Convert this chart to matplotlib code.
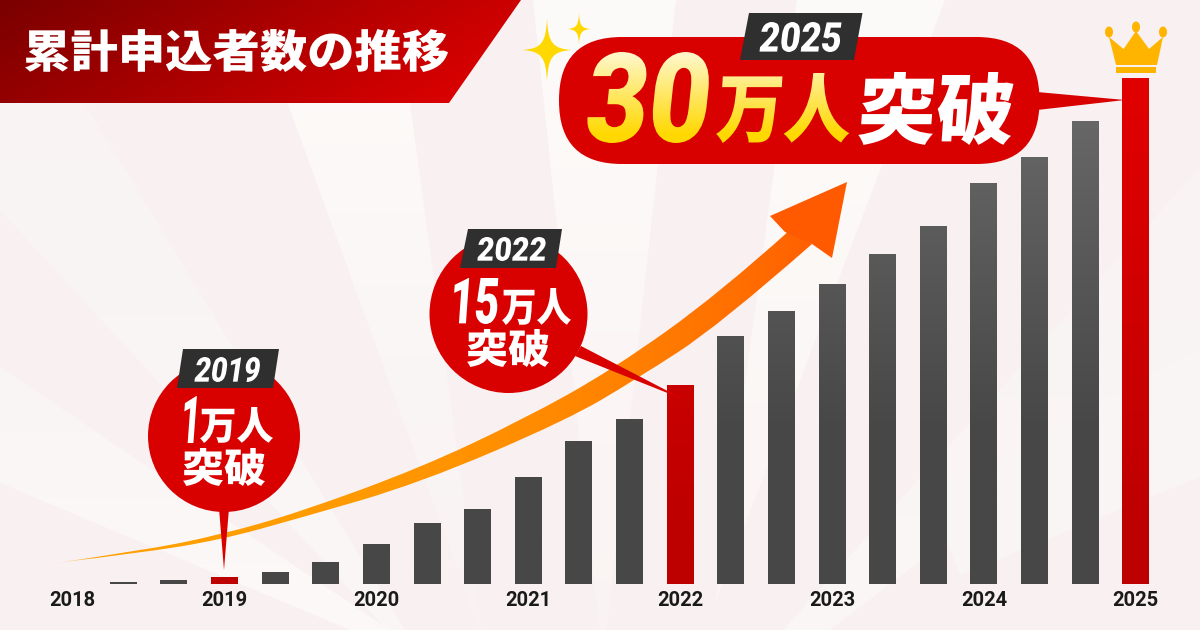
import numpy as np
import matplotlib
matplotlib.use('Agg')
import matplotlib.pyplot as plt
from matplotlib.font_manager import FontProperties
from matplotlib.patches import Circle, Ellipse, PathPatch, Polygon, Rectangle, FancyBboxPatch
from matplotlib.path import Path
from matplotlib.patheffects import AbstractPathEffect
from matplotlib.textpath import TextPath
from matplotlib.transforms import Affine2D, Bbox, IdentityTransform, TransformedPath

# cumulative applicants (10k people), one bar per 4 months
bar_values = [0, 0.12, 0.24, 0.41, 0.71, 1.30, 2.37, 3.59, 4.45, 6.34, 8.48, 9.78,
              11.80, 14.70, 16.19, 17.79, 19.57, 21.23, 23.77, 25.32, 27.45, 30.0]
highlight_bars = [3, 12, 21]
tick_positions = [0, 3, 6, 9, 12, 15, 18, 21]
year_labels = ['2018', '2019', '2020', '2021', '2022', '2023', '2024', '2025']

title = '累計申込者数の推移'
JP = 'Noto Sans CJK JP'
NUM = 'Roboto'
RED = '#d90000'
TAG = '#2f2f2f'
W, H = 1200, 630

# background rays, (vertices, top colour, bottom colour)
rays = [
    ([(250, 0), (396, 0), (483, 640)], '#fdfbf9', '#f9f2f3'),
    ([(533, 0), (676, 0), (603, 665)], '#fdfbf9', '#faf3f3'),
    ([(797, 0), (945, 0), (715, 604)], '#fdfbf9', '#fbf5f4'),
    ([(22, 0), (0, 0), (0, 210), (387, 630), (405, 630)], '#f9f3f3', '#fbf7f7'),
    ([(0, 367), (0, 483), (350, 630), (390, 630)], '#faf5f5', '#fcf9f8'),
    ([(783, 630), (1200, 167), (1200, 347), (830, 630)], '#f9f3f3', '#fbf7f6'),
    ([(1200, 347), (1200, 477), (960, 575), (930, 500)], '#faf5f5', '#fbf6f5'),
]
arrow_top = [(55, 563), (140, 551), (220, 535), (300, 512), (420, 468), (522, 420),
             (612, 370), (720, 293), (790, 230)]
arrow_bottom = [(812, 244), (720, 325), (635, 380), (567, 420), (420, 483), (300, 518),
                (220, 540), (140, 553), (55, 563)]


def hexrgb(c):
    return np.array(matplotlib.colors.to_rgb(c))


class Warp(AbstractPathEffect):
    """ Squeeze/slant the glyphs of a real text, optionally with a vertical gradient """

    def __init__(self, sx=1, skew=0, grad=None):
        super().__init__()
        self.sx, self.skew, self.grad = sx, skew, grad

    def draw_path(self, renderer, gc, tpath, affine, rgbFace=None):
        a = Affine2D().skew_deg(self.skew, 0).scale(self.sx, 1) + affine
        if self.grad is None:
            renderer.draw_path(gc, tpath, a, rgbFace)
            return
        p = a.transform_path(tpath)
        e = p.get_extents()
        x0, y0 = int(e.x0) - 1, int(e.y0) - 1
        w, h = int(e.width) + 4, int(e.height) + 4
        ytop, ybot, c_top, c_bot = self.grad
        rows = H - (y0 + np.arange(h))  # picture y of each image row
        t = np.clip((rows - ytop) / (ybot - ytop), 0, 1)[:, None]
        rgb = hexrgb(c_top) * (1 - t) + hexrgb(c_bot) * t
        im = np.zeros((h, w, 4), dtype=np.uint8)
        im[..., :3] = (rgb[:, None, :] * 255).astype(np.uint8)
        im[..., 3] = 255
        gc2 = renderer.new_gc()
        gc2.copy_properties(gc)
        gc2.set_clip_path(TransformedPath(p, IdentityTransform()))
        renderer.draw_image(gc2, x0, y0, im)
        gc2.restore()


def fit_text(ax, s, x0, x1, ytop, ybot, family, weight='bold', skew=0, color='white', grad=None):
    fp = FontProperties(family=family, weight=weight)
    e = TextPath((0, 0), s, size=100, prop=fp).get_extents()
    k = (ybot - ytop) / e.height  # px per unit at size 100
    slant = (ybot - ytop) * np.tan(np.radians(skew))
    sx = (x1 - x0 - slant) / (e.width * k)
    txt = ax.text(x0 - e.x0 * k * sx, ybot + e.y0 * k, s, fontproperties=fp, fontsize=100 * k * 72 / 100,
                  color=color, ha='left', va='baseline', zorder=10,
                  path_effects=[Warp(sx, skew, grad)])

    # the box of the squeezed glyphs, not of the unsqueezed layout
    natural = txt.get_window_extent

    def squeezed(renderer=None, dpi=None):
        b = natural(renderer, dpi)
        return Bbox.from_extents(b.x0, b.y0, b.x0 + b.width * sx + slant, b.y1)
    txt.get_window_extent = squeezed


def fill_gradient(ax, path, c0, c1, horizontal=False, alpha=None, power=1, zorder=2):
    e = path.get_extents()
    n = 256
    t = np.linspace(0, 1, n)[:, None]
    rgb = hexrgb(c0) * (1 - t ** power) + hexrgb(c1) * t ** power
    img = rgb[None, :, :] if horizontal else rgb[:, None, :]
    if alpha is not None:
        a = np.interp(t[:, 0], alpha[0], alpha[1])
        a = a[None, :, None] if horizontal else a[:, None, None]
        img = np.concatenate([img, a], axis=2)
    im = ax.imshow(img, extent=(e.x0, e.x1, e.y1, e.y0), aspect='auto', zorder=zorder,
                   interpolation='bilinear')
    im.set_clip_path(PathPatch(path, transform=ax.transData))


def smooth(points):
    """ Quadratic segments through midpoints """
    pts = np.array(points, dtype=float)
    verts = [pts[0]]
    for a, b in zip(pts[1:-1], pts[2:]):
        verts += [a, (a + b) / 2]
    verts[-1] = pts[-1]
    return verts


def star(ax, cx, cy, rx, ry):
    tips = [(0, -ry), (rx, 0), (0, ry), (-rx, 0)]
    verts = [(cx, cy - ry)]
    codes = [Path.MOVETO]
    for (ax0, ay0), (ax1, ay1) in zip(tips, tips[1:] + tips[:1]):
        verts += [(cx + ax0 * 0.22 + ax1 * 0.04, cy + ay0 * 0.22 + ay1 * 0.04),
                  (cx + ax1 * 0.22 + ax0 * 0.04, cy + ay1 * 0.22 + ay0 * 0.04),
                  (cx + ax1, cy + ay1)]
        codes += [Path.CURVE4] * 3
    ax.add_patch(PathPatch(Path(verts, codes), fc='#ffd800', ec='none', zorder=5))


fig = plt.figure(figsize=(W / 100, H / 100), dpi=100, facecolor='#f9f0f1')

# background layer in picture pixels
bg = fig.add_axes([0, 0, 1, 1], zorder=0)
for verts, c0, c1 in rays:
    fill_gradient(bg, Path(verts + [verts[0]]), c0, c1)
bg.set_xlim(0, W)
bg.set_ylim(H, 0)
bg.axis('off')

# bars
base_px, top_px = 584, 78
px_per_value = (base_px - top_px) / 30
ax = fig.add_axes([0, (H - base_px) / H, 1, base_px / H], zorder=1)
ax.patch.set_alpha(0)
idx = np.arange(len(bar_values))
step = 50.63
xlim = ((0 - 72.5) / step, (W - 72.5) / step)
ylim = (0, base_px / px_per_value)
rects = ax.bar(idx, bar_values, width=26.7 / step, color='#474747', linewidth=0)
yvals = np.linspace(30, 0, 256)
gray = np.interp(yvals, [0, 9, 30], [0x47, 0x47, 0x6b]) / 255
reds = np.interp(yvals, [0, 3, 30], [0xbd, 0xbd, 0xe2]) / 255
gray_img = np.stack([gray, gray, gray], axis=1)[:, None, :]
red_img = np.stack([reds, 0 * reds, 0 * reds], axis=1)[:, None, :]
for i, r in zip(idx, rects):
    if bar_values[i] <= 0:
        continue
    im = ax.imshow(red_img if i in highlight_bars else gray_img, aspect='auto', zorder=3,
                   extent=(r.get_x(), r.get_x() + r.get_width(), 0, 30))
    im.set_clip_path(r)
ax.set_xlim(*xlim)
ax.set_ylim(*ylim)
ax.set_xticks(tick_positions, labels=year_labels, fontfamily=NUM, fontweight='bold',
              fontsize=14.5, color='#1a1a1a')
ax.set_yticks([])
ax.tick_params(axis='x', length=0, pad=5)
for s in ax.spines.values():
    s.set_visible(False)

# everything on top, again in picture pixels
ov = fig.add_axes([0, 0, 1, 1], zorder=2)
ov.patch.set_alpha(0)

# header
header = Path([(0, 0), (521, 0), (449, 103), (0, 103), (0, 0)])
xx, yy = np.meshgrid(np.linspace(0, 521, 260), np.linspace(0, 103, 60))
t = np.clip((xx + 1.6 * yy) / 605, 0, 1)[..., None]
him = ov.imshow(hexrgb('#7a0000') * (1 - t) + hexrgb('#d90000') * t, extent=(0, 521, 103, 0),
                aspect='auto', zorder=2)
him.set_clip_path(PathPatch(header, transform=ov.transData))
fit_text(ov, title, 25, 448, 29, 72, JP, weight='black')

# rising arrow
shaft = smooth(arrow_top) + smooth(arrow_bottom)
shaft_codes = ([Path.MOVETO] + [Path.CURVE3] * (len(smooth(arrow_top)) - 1)
               + [Path.LINETO] + [Path.CURVE3] * (len(smooth(arrow_bottom)) - 1))
fill_gradient(ov, Path(shaft, shaft_codes), '#ffa000', '#ff6000', horizontal=True,
              alpha=([0, 0.05, 1], [0.1, 1, 1]), power=2.5, zorder=3)
ov.add_patch(Polygon([(770, 216), (847, 182), (832, 258), (812, 244), (785, 232)],
                     fc='#ff5a00', ec='none', zorder=3))

# 2019 balloon
ov.add_patch(Circle((224, 436), 76, fc=RED, ec='none', zorder=4))
ov.add_patch(Polygon([(219, 508), (229, 508), (224, 570)], fc=RED, ec='none', zorder=4))
ov.add_patch(Polygon([(183, 349), (279, 349), (273, 388), (177, 388)], fc=TAG, ec='none', zorder=5))
fit_text(ov, '2019', 194, 262, 357, 382, NUM, weight='black', skew=10)
fit_text(ov, '1', 182, 200, 396, 443, NUM, weight='black', skew=8)
fit_text(ov, '万人', 200, 273, 407, 443, JP, weight='black')
fit_text(ov, '突破', 183, 265, 448, 486, JP, weight='black')

# 2022 balloon
ov.add_patch(Circle((508.5, 314), 79, fc=RED, ec='none', zorder=4))
ov.add_patch(Polygon([(581, 346), (575, 356), (685, 400)], fc=RED, ec='none', zorder=4))
ov.add_patch(Polygon([(468, 229), (562, 229), (556, 268), (460, 268)], fc=TAG, ec='none', zorder=5))
fit_text(ov, '2022', 477, 547, 237, 261, NUM, weight='black', skew=6)
fit_text(ov, '15', 452, 501, 278, 324, NUM, weight='black', skew=6)
fit_text(ov, '万人', 502, 571, 288, 325, JP, weight='black')
fit_text(ov, '突破', 467, 549, 329, 367, JP, weight='black')

# 2025 balloon
ov.add_patch(FancyBboxPatch((559 + 63, 37 + 63), 480.5 - 126, 1, boxstyle='round,pad=63,rounding_size=63',
                            fc=RED, ec='none', zorder=4))
ov.add_patch(Polygon([(1037, 92), (1037, 110), (1125, 100)], fc=RED, ec='none', zorder=4))
ov.add_patch(Polygon([(749, 13), (862.5, 13), (854, 60), (740, 60)], fc=TAG, ec='none', zorder=5))
fit_text(ov, '2025', 759, 843, 22, 52, NUM, weight='black', skew=8)
big_grad = (52, 135, '#fff8d0', '#ffd800')
fit_text(ov, '30', 585, 714, 52, 143, NUM, weight='black', skew=7, color='#ffd800', grad=big_grad)
fit_text(ov, '万人', 716, 854, 73, 143, JP, weight='black', skew=4, color='#ffd800', grad=big_grad)
fit_text(ov, '突破', 858, 1016, 72, 145, JP, weight='black', skew=4)

# sparkles
star(ov, 547, 50, 25, 32)
star(ov, 579, 29, 12, 16)

# crown
GOLD = '#ffb400'
ov.add_patch(Polygon([(1116, 65), (1109, 37), (1123.6, 49), (1136, 31), (1149, 49), (1163, 37), (1157, 65)],
                     fc=GOLD, ec='none', zorder=5))
ov.add_patch(Rectangle((1116, 67), 40, 6, fc=GOLD, ec='none', zorder=5))
for cx, cy in [(1109, 32), (1136, 27), (1163, 32)]:
    ov.add_patch(Ellipse((cx, cy), 8, 11, fc=GOLD, ec='none', zorder=5))

ov.set_xlim(0, W)
ov.set_ylim(H, 0)
ov.axis('off')

fig.savefig('out.png', dpi=100, facecolor=fig.get_facecolor())
